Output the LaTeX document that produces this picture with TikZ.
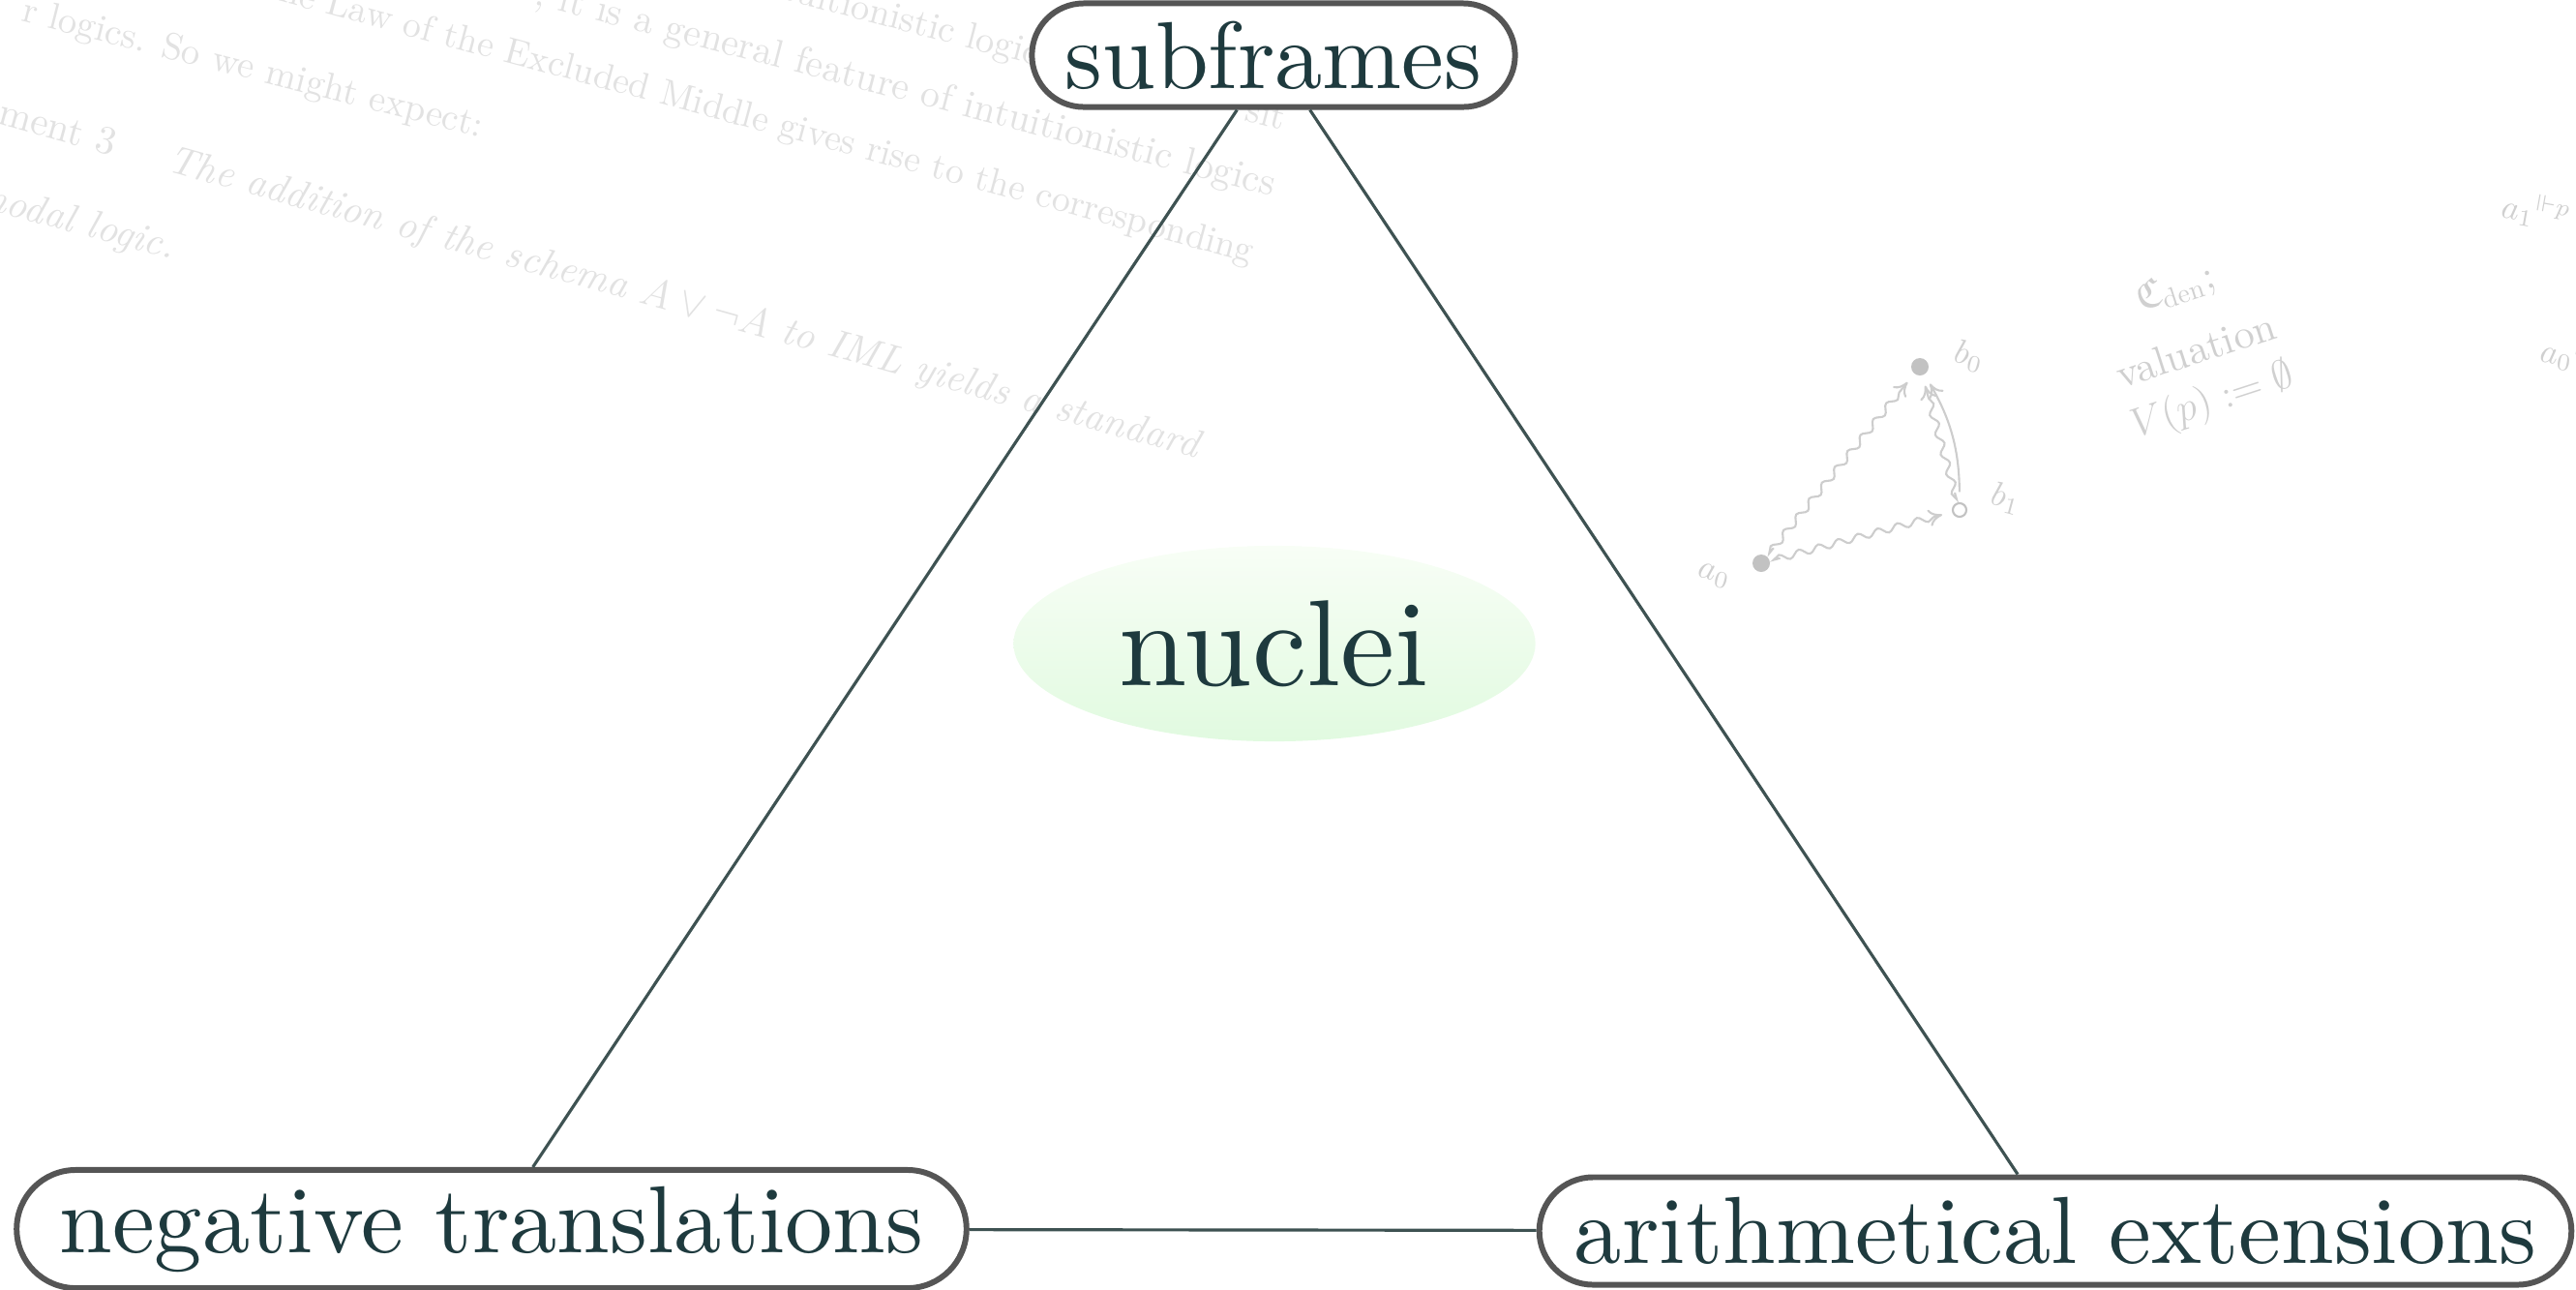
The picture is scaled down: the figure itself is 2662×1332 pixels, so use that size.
\documentclass[tikz,border=0pt]{standalone}
\usepackage{amsmath,amssymb}
\usepackage{fontspec}
\setmainfont{lmroman10}[Extension=.otf, UprightFont=*-regular, ItalicFont=*-italic, BoldFont=*-bold, BoldItalicFont=*-bolditalic]
\usetikzlibrary{shapes.misc,shapes.geometric,decorations.pathmorphing,arrows.meta}

\definecolor{boxborder}{HTML}{555555}
\definecolor{linkcol}{HTML}{3E5252}
\definecolor{labelcol}{HTML}{1E3A3E}
\definecolor{bgtext}{HTML}{E2E2E2}
\definecolor{faintline}{HTML}{CDCDCD}
\definecolor{faintdot}{HTML}{C2C2C2}
\definecolor{faintlab}{HTML}{D0D0D0}
\definecolor{nucleitop}{HTML}{F8FEF6}
\definecolor{nucleibot}{HTML}{E1FAE0}

\begin{document}
\begin{tikzpicture}[x=0.01cm,y=-0.01cm,
  topic/.style={rounded rectangle, draw=boxborder, line width=1.7pt, fill=white,
    text=labelcol, font=\fontsize{28}{34}\selectfont, inner sep=0pt},
  link/.style={draw=linkcol, line width=0.9pt},
  bgline/.style={text=bgtext, inner sep=0pt, font=\fontsize{11}{13}\selectfont, rotate=#1},
  bgline/.default=-14.8,
  faintlabel/.style={text=faintlab, inner sep=0pt, font=\fontsize{10}{12}\selectfont},
  wavy/.style={draw=faintline, line width=0.6pt, -{To[length=4pt,width=5pt]},
    shorten <=3pt, shorten >=3pt,
    decorate, decoration={snake, amplitude=1pt, segment length=6pt, post length=4pt, pre length=1pt}},
  plainarrow/.style={draw=faintline, line width=0.6pt, -{To[length=4pt,width=5pt]}, shorten <=3pt, shorten >=3pt},
  dotnode/.style={circle, fill=faintdot, inner sep=0pt, minimum size=0.18cm},
  opendot/.style={circle, draw=faintdot, line width=0.6pt, fill=white, inner sep=0pt, minimum size=0.14cm}
]
\useasboundingbox (0,0) rectangle (2662,1332);

% faint background text
\node[bgline=-14.6, anchor=base east] (bgA) at (1072,68) {intuitionistic logic};
\node[bgline=-14.6, anchor=base west] (bgA2) at (1285,124) {sit};
\node[bgline=-14.6, anchor=base east, font=\fontsize{11.4}{13}\selectfont] (bgB) at (1315,203) {, it is a general feature of intuitionistic logics};
\node[bgline=-15.1, anchor=base east, font=\fontsize{10.8}{13}\selectfont] (bgC) at (1293,272) {the Law of the Excluded Middle gives rise to the corresponding};
\node[bgline=-14.2, anchor=base east] (bgD) at (497,142) {r logics. So we might expect:};
\node[bgline=-15.6, anchor=base east, font=\fontsize{11.7}{13}\selectfont] (bgE) at (1238,474) {ment 3\hspace{1.4em}\textit{The addition of the schema $A\vee\neg A$ to IML yields a standard}};
\node[bgline=-15, anchor=base east, font=\fontsize{11.7}{13}\selectfont] (bgF) at (178,268) {\textit{modal logic.}};

% faint frame diagram
\node[dotnode] (a0) at (1820,582) {};
\node[dotnode] (b0) at (1984,379) {};
\node[opendot] (b1) at (2025,527) {};
\node[faintlabel, rotate=-15] (a0l) at (1771,595) {$a_0$};
\node[faintlabel, rotate=-15] (b0l) at (2035,368) {$b_0$};
\node[faintlabel, rotate=-15] (b1l) at (2073,515) {$b_1$};
\draw[wavy] (a0) -- (b1);
\draw[wavy] (a0) -- (b0);
\draw[wavy] (b1) -- (b0);
\draw[plainarrow] (b1) to[bend right=15] (b0);
\node[faintlabel, rotate=18, align=center, font=\fontsize{12}{15}\selectfont] (val) at (2268,358)
  {$\mathfrak{C}_{\mathrm{den}}$;\\[5pt] valuation\\ {\fontsize{12.5}{15}\selectfont$V(p) := \emptyset$}};
\node[faintlabel, rotate=-10, anchor=west] (a1r) at (2585,212) {$a_1{}^{\Vdash p}$};
\node[faintlabel, rotate=-10, anchor=west] (a0r) at (2625,361) {$a_0{}^{\Vdash}$};

% main diagram
\node[ellipse, inner sep=0pt, minimum width=5.39cm, minimum height=2.02cm,
  top color=nucleitop, bottom color=nucleibot, text=labelcol,
  font=\fontsize{36}{42}\selectfont] (nuc) at (1317,665) {nuclei};

\node[topic, minimum width=4.99cm, minimum height=1.07cm] (sub) at (1316,57) {subframes};
\node[topic, minimum width=9.81cm, minimum height=1.22cm] (neg) at (508,1270) {negative translations};
\node[topic, minimum width=10.66cm, minimum height=1.11cm] (ari) at (2124,1272) {arithmetical extensions};

\draw[link] (sub) -- (neg);
\draw[link] (sub) -- (ari);
\draw[link] (neg) -- (ari);
\end{tikzpicture}
\end{document}
